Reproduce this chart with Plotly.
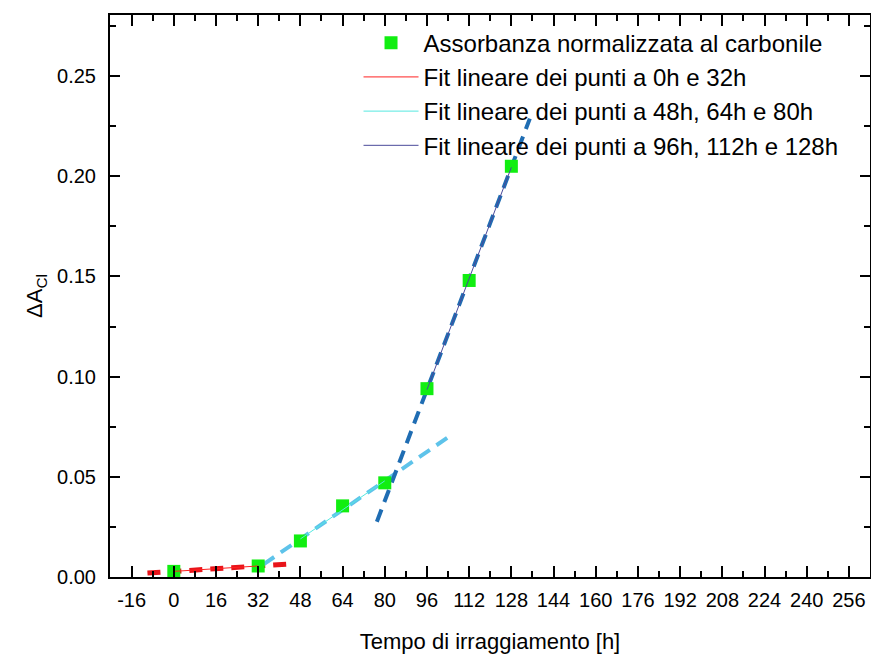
import plotly.graph_objects as go

# Data
hours = [0, 32, 48, 64, 80, 96, 112, 128]
absorbance = [0.0028, 0.0055, 0.018, 0.0355, 0.047, 0.094, 0.148, 0.205]

# fit groups (thin solid line spans the fitted points, dashed line extends)
fit1_x = [0, 32]
fit1_y = [0.0028, 0.0055]
fit1_ext_x = [-10, 44]

fit2_x = [48, 64, 80]
fit2_y = [0.018, 0.0355, 0.047]
fit2_ext_x = [34, 105]

fit3_x = [96, 112, 128]
fit3_y = [0.094, 0.148, 0.205]
fit3_ext_x = [77, 135]

x_tick_vals = [-16, 0, 16, 32, 48, 64, 80, 96, 112, 128, 144, 160, 176, 192, 208, 224, 240, 256]
x_tick_text = [str(v) for v in x_tick_vals]
y_tick_vals = [0.0, 0.05, 0.10, 0.15, 0.20, 0.25]

legend_names = [
    "Assorbanza normalizzata al carbonile",
    "Fit lineare dei punti a 0h e 32h",
    "Fit lineare dei punti a 48h, 64h e 80h",
    "Fit lineare dei punti a 96h, 112h e 128h",
]


def linfit(xs, ys):
    n = len(xs)
    mx = sum(xs) / n
    my = sum(ys) / n
    sxx = sum((x - mx) ** 2 for x in xs)
    sxy = sum((x - mx) * (y - my) for x, y in zip(xs, ys))
    b = sxy / sxx
    a = my - b * mx
    return a, b


fig = go.Figure()

fits = [
    (fit1_x, fit1_y, fit1_ext_x, "#ff2020", "#e8141a", legend_names[1], 5),
    (fit2_x, fit2_y, fit2_ext_x, "#55e8e0", "#5ec3ea", legend_names[2], 4),
    (fit3_x, fit3_y, fit3_ext_x, "#4a4a9a", "#1f6db3", legend_names[3], 4),
]

# dashed extension lines (not in legend)
for fx, fy, ex, thin_c, dash_c, name, w in fits:
    a, b = linfit(fx, fy)
    fig.add_trace(go.Scatter(
        x=ex, y=[a + b * v for v in ex], mode="lines",
        line=dict(color=dash_c, width=w, dash="13px,8px"),
        showlegend=False, hoverinfo="skip"))

# markers
fig.add_trace(go.Scatter(
    x=hours, y=absorbance, mode="markers", name=legend_names[0],
    marker=dict(symbol="square", size=13, color="#11ee11", line=dict(width=0))))

# thin solid fit lines
for fx, fy, ex, thin_c, dash_c, name, w in fits:
    a, b = linfit(fx, fy)
    xs = [fx[0], fx[-1]]
    fig.add_trace(go.Scatter(
        x=xs, y=[a + b * v for v in xs], mode="lines", name=name,
        line=dict(color=thin_c, width=1)))

FONT = "Liberation Sans, Arial, sans-serif"

fig.update_layout(
    width=871, height=655,
    margin=dict(l=110, r=1, t=15, b=78),
    plot_bgcolor="white", paper_bgcolor="white",
    font=dict(family=FONT, size=20, color="black"),
    legend=dict(
        x=0.327, y=0.99, xanchor="left", yanchor="top",
        bgcolor="rgba(0,0,0,0)", font=dict(size=24, family=FONT),
        itemwidth=55,
    ),
    xaxis=dict(
        range=[-24.2, 264], tickvals=x_tick_vals, ticktext=x_tick_text,
        showgrid=False, zeroline=False, showline=True, linecolor="black", linewidth=2,
        mirror="allticks", ticks="inside", ticklen=11, tickwidth=2, tickcolor="black",
        minor=dict(ticks="inside", ticklen=6, tickwidth=2, dtick=8, tick0=0, tickcolor="black", showgrid=False),
        tickfont=dict(size=20), ticklabelstandoff=4,
        automargin=False,
        title=dict(text="Tempo di irraggiamento [h]", font=dict(size=22), standoff=24),
    ),
    yaxis=dict(
        range=[0, 0.2805], tickvals=y_tick_vals, tickformat=".2f",
        showgrid=False, zeroline=False, showline=True, linecolor="black", linewidth=2,
        mirror="allticks", ticks="inside", ticklen=10, tickwidth=2, tickcolor="black",
        minor=dict(ticks="inside", ticklen=6, tickwidth=2, dtick=0.025, tick0=0, tickcolor="black", showgrid=False),
        tickfont=dict(size=20), ticklabelstandoff=8,
        automargin=False,
        title=dict(text="ΔA<sub>Cl</sub>", font=dict(size=22), standoff=8),
    ),
)

fig.write_html(
    "out.html",
    config={"displayModeBar": False},
    post_script="document.body.style.margin='0';document.body.style.overflow='hidden';",
)
